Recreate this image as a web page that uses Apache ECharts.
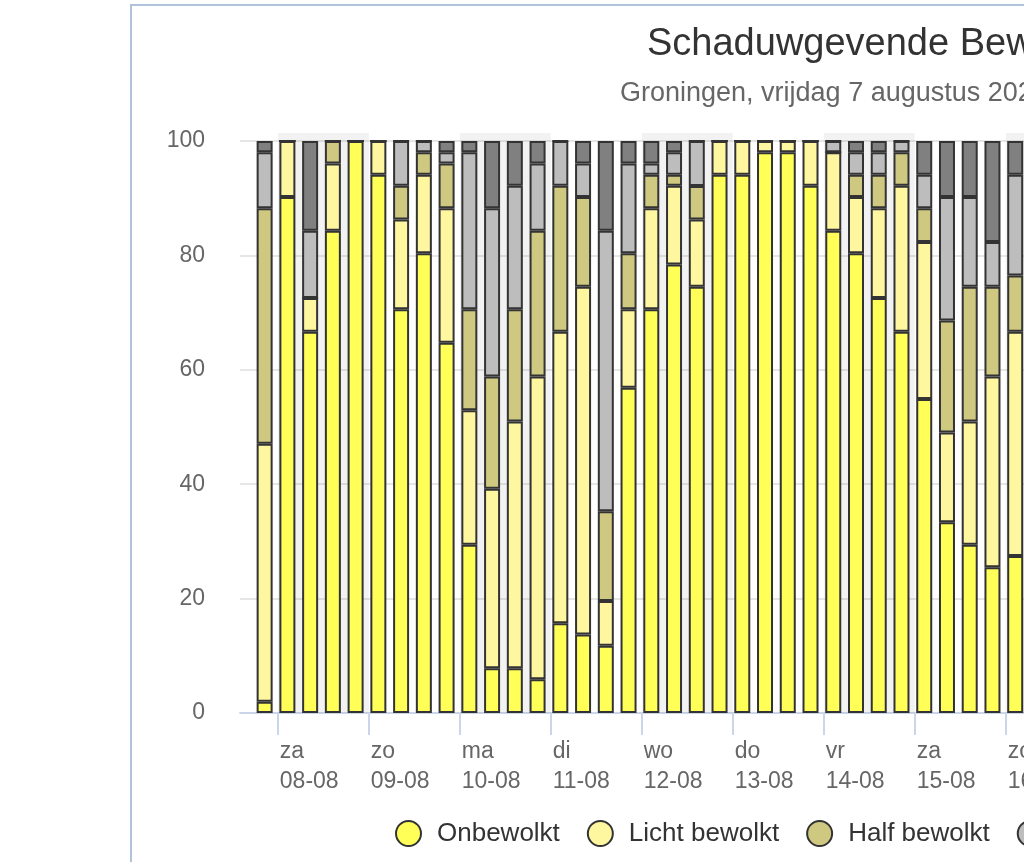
<!DOCTYPE html>
<html>
<head>
<meta charset="utf-8">
<title>Schaduwgevende Bewolking</title>
<script src="https://cdn.jsdelivr.net/npm/echarts@6/dist/echarts.min.js"></script>
<style>
html, body { margin: 0; padding: 0; overflow: hidden; background: #fff; }
#chart { position: absolute; left: 130px; top: 4px; width: 1520px; height: 900px; border: 2px solid #b0c3da; }
</style>
</head>
<body>
<div id="chart"></div>
<script>
// uren t.o.v. za 08-08 00:00, eind-/middenpunt van elk blok van 6 uur
var uren = [-3, 3, 9, 15, 21, 27, 33, 39, 45, 51, 57, 63, 69, 75, 81, 87, 93,
	99, 105, 111, 117, 123, 129, 135, 141, 147, 153, 159, 165, 171, 177, 183, 189, 195];

// percentage van de leden per klasse
var onbewolkt = [1.96, 90.2, 66.67, 84.31, 100, 94.12, 70.59, 80.39, 64.71, 29.41, 7.84,
	7.84, 5.88, 15.69, 13.73, 11.76, 56.86, 70.59, 78.43, 74.51, 94.12, 94.12,
	98.04, 98.04, 92.16, 84.31, 80.39, 72.55, 66.67, 54.9, 33.33, 29.41, 25.49, 27.45];
var lichtBewolkt = [45.1, 9.8, 5.88, 11.76, 0, 5.88, 15.69, 13.73, 23.53, 23.53, 31.37,
	43.14, 52.94, 50.98, 60.78, 7.84, 13.73, 17.65, 13.73, 11.76, 5.88, 5.88,
	1.96, 1.96, 7.84, 13.73, 9.8, 15.69, 25.49, 27.45, 15.69, 21.57, 33.33, 39.22];
var halfBewolkt = [41.18, 0, 0, 3.92, 0, 0, 5.88, 3.92, 7.84, 17.65, 19.61,
	19.61, 25.49, 25.49, 15.69, 15.69, 9.8, 5.88, 1.96, 5.88, 0, 0,
	0, 0, 0, 0, 3.92, 5.88, 5.88, 5.88, 19.61, 23.53, 15.69, 9.8];
var zwaarBewolkt = [9.8, 0, 11.76, 0, 0, 0, 7.84, 1.96, 1.96, 27.45, 29.41,
	21.57, 11.76, 7.84, 5.88, 49.02, 15.69, 1.96, 3.92, 7.84, 0, 0,
	0, 0, 0, 1.96, 3.92, 3.92, 1.96, 5.88, 21.57, 15.69, 7.84, 17.65];
var geheelBewolkt = [1.96, 0, 15.69, 0, 0, 0, 0, 0, 1.96, 1.96, 11.76,
	7.84, 3.92, 0, 3.92, 15.69, 3.92, 3.92, 1.96, 0, 0, 0,
	0, 0, 0, 0, 1.96, 1.96, 0, 5.88, 9.8, 9.8, 17.65, 5.88];

// labels van de x-as (middernacht)
var dagNamen = ['za', 'zo', 'ma', 'di', 'wo', 'do', 'vr', 'za', 'zo', 'ma', 'di', 'wo', 'do', 'vr', 'za'];
var dagDatums = ['08-08', '09-08', '10-08', '11-08', '12-08', '13-08', '14-08', '15-08',
	'16-08', '17-08', '18-08', '19-08', '20-08', '21-08', '22-08'];
// grijze banden om de dag (start in uren)
var bandUren = [0, 48, 96, 144, 192, 240, 288, 336];

var yTicks = [0, 20, 40, 60, 80, 100];
var namen = ['Onbewolkt', 'Licht bewolkt', 'Half bewolkt', 'Zwaar bewolkt', 'Geheel bewolkt'];

// as in uurvakken: vr 07-08 14:00 t/m za 22-08
var eersteUur = -10, laatsteUur = 357;
var uurVakken = [];
for (var h = eersteUur; h <= laatsteUur; h++) {
	uurVakken.push(String(h));
}

function reeks(waarden) {
	return uurVakken.map(function(v) {
		// blok dat eindigt op uur u staat in vak u-1
		var i = uren.indexOf(Number(v) + 1);
		return i >= 0 ? waarden[i] : '-';
	});
}

var fontFam = '"Liberation Sans", Arial, sans-serif';

function serie(naam, kleur, waarden) {
	return {
		name : naam,
		type : 'bar',
		stack : 'bewolking',
		barWidth : 16,
		itemStyle : {
			color : kleur,
			borderColor : '#333333',
			borderWidth : 2
		},
		emphasis : { disabled : true },
		data : reeks(waarden)
	};
}

function isMiddernacht(index, value) {
	return Number(value) % 24 === 0;
}

var chart = echarts.init(document.getElementById('chart'));
var option = {
	animation : false,
	textStyle : { fontFamily : fontFam },
	title : [ {
		text : 'Schaduwgevende Bewolking',
		left : 515,
		top : 20,
		padding : 0,
		textStyle : { fontSize : 38, fontWeight : 'normal', color : '#333333', fontFamily : fontFam }
	}, {
		text : 'Groningen, vrijdag 7 augustus 2020',
		left : 488,
		top : 74,
		padding : 0,
		textStyle : { fontSize : 27, fontWeight : 'normal', color : '#666666', fontFamily : fontFam }
	} ],
	legend : {
		data : namen,
		left : 263,
		top : 814,
		padding : 0,
		icon : 'circle',
		itemWidth : 25,
		itemHeight : 25,
		itemGap : 27,
		selectedMode : false,
		textStyle : { fontSize : 26, color : '#333333', padding : [ 0, 0, 0, 11 ], fontFamily : fontFam }
	},
	grid : {
		left : 108,
		top : 127,
		height : 580,
		width : 1395
	},
	xAxis : [ {
		type : 'category',
		data : uurVakken,
		boundaryGap : true,
		axisLine : { lineStyle : { color : '#ccd6eb', width : 2 } },
		axisTick : {
			show : true,
			length : 22,
			interval : isMiddernacht,
			lineStyle : { color : '#ccd6eb', width : 2 }
		},
		splitLine : { show : false },
		axisLabel : {
			interval : isMiddernacht,
			align : 'left',
			margin : 24,
			fontSize : 23,
			lineHeight : 30,
			color : '#666666',
			fontFamily : fontFam,
			formatter : function(value) {
				var d = Number(value) / 24;
				if (dagNamen[d] === undefined) return '';
				return dagNamen[d] + '\n' + dagDatums[d];
			}
		}
	}, {
		// onzichtbare uren-as voor de dagbanden
		type : 'value',
		show : false,
		min : eersteUur,
		max : laatsteUur + 1
	} ],
	yAxis : {
		type : 'value',
		min : 0,
		max : 101.4,
		interval : 20,
		axisLine : { show : false },
		axisTick : { show : false },
		splitLine : {
			show : true,
			showMaxLine : false,
			lineStyle : { color : '#e6e6e6', width : 2 }
		},
		axisLabel : {
			showMaxLabel : false,
			margin : 35,
			fontSize : 23,
			color : '#666666',
			fontFamily : fontFam,
			formatter : function(v) {
				return yTicks.indexOf(v) >= 0 ? String(v) : '';
			}
		}
	},
	series : [
		serie(namen[0], '#ffff58', onbewolkt),
		serie(namen[1], '#fff6a0', lichtBewolkt),
		serie(namen[2], '#cfc880', halfBewolkt),
		serie(namen[3], '#bdbdbd', zwaarBewolkt),
		serie(namen[4], '#808080', geheelBewolkt),
		{
			name : 'dagbanden',
			type : 'line',
			xAxisIndex : 1,
			yAxisIndex : 0,
			silent : true,
			symbol : 'none',
			lineStyle : { opacity : 0 },
			data : [],
			markArea : {
				silent : true,
				itemStyle : { color : 'rgba(0,0,0,0.05)' },
				data : bandUren.map(function(b) {
					return [ { xAxis : b }, { xAxis : b + 24 } ];
				})
			}
		}
	]
};
chart.setOption(option);
</script>
</body>
</html>
